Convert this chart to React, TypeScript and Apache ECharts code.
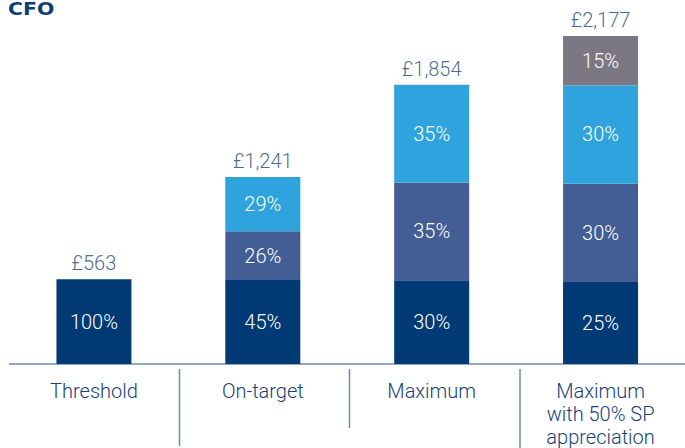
import React, { useEffect, useRef } from "react";
import * as echarts from "echarts";

const categories = ["Threshold", "On-target", "Maximum", "Maximum\nwith 50% SP\nappreciation"];
const totals = [563, 1241, 1854, 2177];
const fixedPct = [100, 45, 30, 25];
const bonusPct = [0, 26, 35, 30];
const ltipPct = [0, 29, 35, 30];
const spPct = [0, 0, 0, 15];

const NAVY = "#023a76";
const MID = "#435d95";
const LIGHT = "#2ea3dd";
const GREY = "#7b7883";
const TEXT = "#17427c";
const AXIS = "#6f8cb4";
const FONT = "Roboto";
const FS = 20;

export default function App() {
  const ref = useRef<HTMLDivElement>(null);
  useEffect(() => {
    document.body.style.margin = "0";
    const chart = echarts.init(ref.current!, null, { renderer: "svg" });
    const seg = (name: string, pcts: number[], color: string) => ({
      name,
      type: "bar",
      stack: "total",
      barWidth: 75,
      itemStyle: { color },
      data: pcts.map((p, i) => (totals[i] * p) / 100),
      label: {
        show: true,
        position: "inside",
        color: "#ffffff",
        fontFamily: FONT,
        fontWeight: 300,
        fontSize: FS,
        formatter: (params: any) => (pcts[params.dataIndex] > 0 ? pcts[params.dataIndex] + "%" : ""),
      },
    });
    chart.setOption({
      animation: false,
      grid: { left: 9.5, right: -5.5, top: 2.5, bottom: 79 },
      xAxis: {
        type: "category",
        data: categories,
        axisLine: { show: true, lineStyle: { color: AXIS, width: 1.5 } },
        axisTick: { show: false },
        axisLabel: {
          color: TEXT,
          fontFamily: FONT,
          fontWeight: 300,
          fontSize: FS,
          lineHeight: 23,
          margin: 15,
          verticalAlign: "top",
        },
      },
      yAxis: {
        type: "value",
        min: 0,
        max: 2400,
        show: false,
        splitLine: { show: false },
      },
      graphic: [
        {
          type: "text",
          x: 8,
          y: 1,
          scaleX: 1.2,
          style: {
            text: "CFO",
            fill: "#0b3c78",
            font: "bold 17px 'DejaVu Sans'",
            textVerticalAlign: "top",
          },
        },
        { type: "line", shape: { x1: 179.5, y1: 369, x2: 179.5, y2: 446 }, style: { stroke: AXIS, lineWidth: 1.5 } },
        { type: "line", shape: { x1: 349.5, y1: 369, x2: 349.5, y2: 428 }, style: { stroke: AXIS, lineWidth: 1.5 } },
        { type: "line", shape: { x1: 520, y1: 369, x2: 520, y2: 448 }, style: { stroke: AXIS, lineWidth: 1.5 } },
      ],
      series: [
        seg("Fixed", fixedPct, NAVY),
        seg("Bonus", bonusPct, MID),
        seg("LTIP", ltipPct, LIGHT),
        seg("SP", spPct, GREY),
        {
          name: "Total",
          type: "scatter",
          symbolSize: 0,
          data: totals,
          label: {
            show: true,
            position: "top",
            distance: 6,
            color: TEXT,
            fontFamily: FONT,
            fontWeight: 300,
            fontSize: FS,
            formatter: (p: any) => "£" + p.value.toLocaleString("en-GB"),
          },
        },
      ],
    });
    return () => chart.dispose();
  }, []);
  return <div ref={ref} style={{ width: 685, height: 448 }} />;
}
